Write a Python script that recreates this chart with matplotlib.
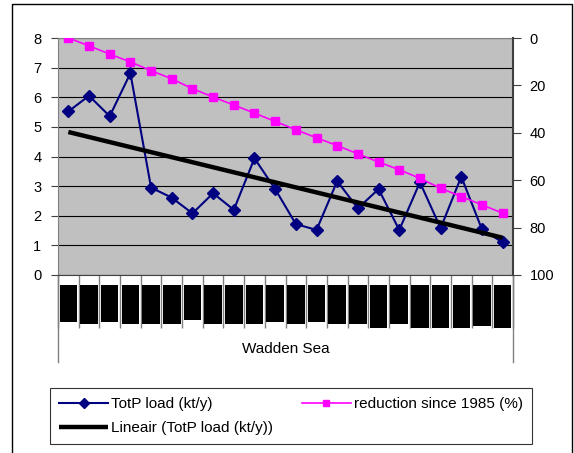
import numpy as np
import matplotlib
matplotlib.use('Agg')
import matplotlib.pyplot as plt
from matplotlib.patches import Rectangle
from matplotlib.transforms import blended_transform_factory

# data
years = list(range(1985, 2007))
totp_load = [5.52, 6.05, 5.36, 6.81, 2.95, 2.61, 2.08, 2.76, 2.20, 3.94, 2.90,
             1.72, 1.52, 3.17, 2.25, 2.90, 1.52, 3.13, 1.58, 3.32, 1.54, 1.10]
reduction = [0, 3.3, 6.8, 10.1, 13.8, 17.2, 21.4, 24.9, 28.3, 31.7, 35.2,
             38.7, 42.1, 45.4, 48.9, 52.3, 55.6, 59.2, 63.4, 66.9, 70.4, 73.9]
left_ticks = list(range(0, 9))
right_ticks = list(range(0, 101, 20))
group_label = 'Wadden Sea'
# the year labels show up as solid black blocks, these are their lengths (px)
label_len = [36.7, 38.7, 36.7, 38.7, 38.7, 38.7, 34.7, 38.7, 38.7, 38.7, 36.7,
             38.7, 36.7, 38.7, 38.7, 42.7, 38.7, 42.7, 42.7, 42.7, 40.7, 42.7]

plt.rcParams['font.family'] = ['Liberation Sans', 'DejaVu Sans']
W, H = 574, 453
fig = plt.figure(figsize=(W / 100, H / 100), dpi=100)


def box(x0, y0, x1, y1):
    # pixel box (top-left origin) -> figure fraction
    return [x0 / W, 1 - y1 / H, (x1 - x0) / W, (y1 - y0) / H]


x = np.arange(len(years))

ax = fig.add_axes(box(58, 38, 513, 275))
ax.set_facecolor('#c0c0c0')
ax.set_xlim(-0.5, len(years) - 0.5)
ax.set_ylim(0, 8)
ax.set_yticks(left_ticks)
ax.yaxis.grid(True, color='black', lw=0.8)
ax.set_axisbelow(True)
ax.tick_params(axis='y', direction='out', length=5, pad=7, labelsize=10.5,
               color='#404040')
ax.set_xticks(np.arange(-0.5, len(years)))
ax.set_xticklabels([])
ax.tick_params(axis='x', direction='out', length=38, color='#808080', width=1)
for side in ['top', 'left']:
    ax.spines[side].set_color('#808080')
ax.spines['bottom'].set_color('#404040')
ax.spines['right'].set_visible(False)

line1, = ax.plot(x, totp_load, color='#000080', lw=1.5, marker='D', ms=6,
                 label='TotP load (kt/y)')
coef = np.polyfit(x, totp_load, 1)
trend, = ax.plot(x, np.polyval(coef, x), color='black', lw=3.2,
                 solid_capstyle='butt', label='Lineair (TotP load (kt/y))')

ax2 = ax.twinx()
ax2.set_ylim(100, 0)
ax2.set_yticks(right_ticks)
ax2.tick_params(axis='y', direction='out', length=6, pad=6, labelsize=10.5,
                color='#404040')
for side in ['top', 'left', 'bottom']:
    ax2.spines[side].set_visible(False)
ax2.spines['right'].set_color('#404040')
ax2.spines['right'].set_linewidth(1.5)
line2, = ax2.plot(x, reduction, color='#ff00ff', lw=1.2, marker='s', ms=5.3,
                  label='reduction since 1985 (%)')

# outer category ticks that run down past the group label
tr = blended_transform_factory(ax.transData, ax.transAxes)
for xe in [-0.5, len(years) - 0.5]:
    ax.plot([xe, xe], [0, -87 / 237], transform=tr, clip_on=False,
            color='#808080', lw=1)

# black label blocks under the axis
axb = fig.add_axes(box(58, 275, 513, 335))
axb.set_xlim(-0.5, len(years) - 0.5)
axb.set_ylim(60, 0)
axb.bar(x, label_len, width=0.85, bottom=10, color='black')
axb.axis('off')

fig.text(285.5 / W, 1 - 349 / H, group_label, ha='center', va='center',
         fontsize=11)

leg = fig.legend(handles=[line1, trend, line2], ncol=2, mode='expand',
                 loc='upper left',
                 bbox_to_anchor=(50 / W, 1 - 445 / H, 482 / W, 57 / H),
                 frameon=True, fancybox=False, edgecolor='black',
                 fontsize=11, handlelength=3.2, handletextpad=0.2,
                 labelspacing=0.65, borderpad=0.6, borderaxespad=0,
                 markerscale=0.8)
leg.get_frame().set_linewidth(0.8)

fig.patches.append(Rectangle((12 / W, -0.05), (572 - 12) / W, 1.05 - 4 / H,
                             transform=fig.transFigure, fill=False,
                             edgecolor='black', lw=1))

fig.savefig('out.png', dpi=100)
